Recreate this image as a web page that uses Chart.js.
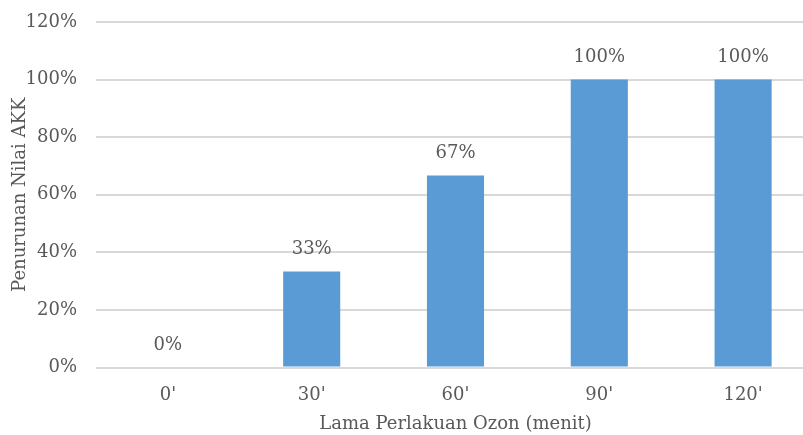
<!DOCTYPE html>
<html>
<head>
<meta charset="utf-8">
<script src="https://cdn.jsdelivr.net/npm/chart.js@4/dist/chart.umd.min.js"></script>
<style>
  html, body { margin: 0; padding: 0; background: #fff; overflow: hidden; }
  #wrap { width: 815px; height: 435px; position: relative; }
</style>
</head>
<body>
<div id="wrap"><canvas id="c"></canvas></div>
<script>
const categories = ["0'", "30'", "60'", "90'", "120'"];
const reductionPct = [0, 33.33, 66.67, 100, 100];
const dataLabels = ["0%", "33%", "67%", "100%", "100%"];
const yTicks = [0, 20, 40, 60, 80, 100, 120];

const FONT = "'DejaVu Serif', 'Liberation Serif', serif";
const SIZE = 18;
const TEXT = '#595959';

const valueLabels = {
  id: 'valueLabels',
  afterDatasetsDraw(chart) {
    const ctx = chart.ctx;
    const meta = chart.getDatasetMeta(0);
    ctx.save();
    ctx.font = SIZE + 'px ' + FONT;
    ctx.fillStyle = TEXT;
    ctx.textAlign = 'center';
    ctx.textBaseline = 'middle';
    meta.data.forEach((bar, i) => {
      ctx.fillText(dataLabels[i], bar.x, bar.y - 22);
    });
    ctx.restore();
  }
};

new Chart(document.getElementById('c'), {
  type: 'bar',
  data: {
    labels: categories,
    datasets: [{
      data: reductionPct,
      backgroundColor: '#5B9BD5',
      barPercentage: 0.397,
      categoryPercentage: 1
    }]
  },
  options: {
    responsive: true,
    maintainAspectRatio: false,
    animation: false,
    layout: { padding: { top: 22, right: 0, bottom: 0, left: 0 } },
    plugins: { legend: { display: false }, tooltip: { enabled: false } },
    scales: {
      x: {
        grid: { display: false },
        border: { display: false },
        ticks: { color: TEXT, font: { family: FONT, size: SIZE }, padding: 9 },
        title: {
          display: true, text: 'Lama Perlakuan Ozon (menit)',
          color: TEXT, font: { family: FONT, size: SIZE }, padding: { top: 0, bottom: 0 }
        },
        afterFit(s) { s.height = 67.5; s.paddingLeft = 0; s.paddingRight = 0; }
      },
      y: {
        min: 0, max: 120,
        afterBuildTicks(s) { s.ticks = yTicks.map(v => ({ value: v })); },
        grid: { color: '#d9d9d9', lineWidth: 2, drawTicks: false },
        border: { display: false },
        ticks: {
          color: TEXT, font: { family: FONT, size: SIZE }, padding: 19,
          callback: v => v + '%'
        },
        title: {
          display: true, text: 'Penurunan Nilai AKK',
          color: TEXT, font: { family: FONT, size: SIZE }, padding: { top: 10, bottom: 0 }
        },
        afterFit(s) { s.width = 96; s.paddingTop = 0; s.paddingBottom = 0; }
      }
    }
  },
  plugins: [valueLabels]
});
</script>
</body>
</html>
